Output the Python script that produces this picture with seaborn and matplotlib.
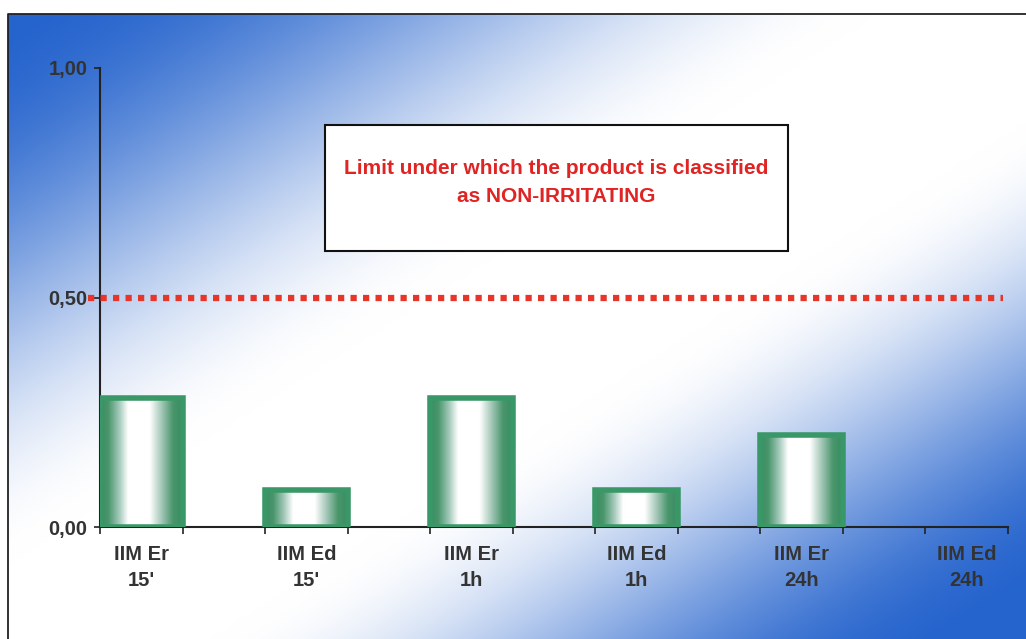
import numpy as np
import pandas as pd
import matplotlib
matplotlib.use('Agg')
import matplotlib.pyplot as plt
from matplotlib.colors import LinearSegmentedColormap
from matplotlib.patches import Rectangle
import seaborn as sns

# data
categories = ["IIM Er\n15'", "IIM Ed\n15'", "IIM Er\n1h", "IIM Ed\n1h", "IIM Er\n24h", "IIM Ed\n24h"]
values = [0.28, 0.08, 0.28, 0.08, 0.20, 0.00]
limit = 0.50
ytick_vals = [0.0, 0.5, 1.0]
ytick_labels = ["0,00", "0,50", "1,00"]

df = pd.DataFrame({"test": categories, "score": values})

sns.set_style("white")
plt.rcParams['font.family'] = ['Liberation Sans', 'DejaVu Sans']

W, H = 1026, 639
fig = plt.figure(figsize=(W / 100, H / 100), dpi=100, facecolor='white')

# blue / white diagonal background (white band from lower left to upper right)
bg = fig.add_axes([0, 0, 1, 1], zorder=-2)
yy, xx = np.mgrid[0:H, 0:W]
s = yy + 0.633 * xx - 650
w = np.where(s < 0, 1 - (np.abs(s) - 80) / 540, 1 - (s - 120) / 470)
w = np.clip(w, 0, 1)
w = w * w * (3 - 2 * w)
blue = np.array([38, 100, 205]) / 255
img = blue[None, None, :] * (1 - w[..., None]) + w[..., None]
img[:14, :, :] = 1
img[:, :8, :] = 1
bg.imshow(img, extent=[0, W, H, 0], aspect='auto')
bg.set_xlim(0, W)
bg.set_ylim(H, 0)
bg.axis('off')
bg.plot([8, 8, W], [H, 14, 14], color='#222222', lw=1.3)

ax = fig.add_axes([100 / W, 112 / H, 908 / W, 459 / H])
ax.set_facecolor('none')

edge = '#3a9868'
sns.barplot(data=df, x="test", y="score", width=0.5, color='white',
            edgecolor=edge, linewidth=4, ax=ax, zorder=3)

# green-white-green fill inside each bar
cmap = LinearSegmentedColormap.from_list(
    "barfill", [(0.0, '#3a8c60'), (0.1, '#4a966c'), (0.22, '#9cc4b4'), (0.34, '#ffffff'),
                (0.6, '#ffffff'), (0.74, '#a6c8ba'), (0.88, '#4a966c'), (1.0, '#3a8c60')])
grad = np.linspace(0, 1, 256)[None, :]
for p in list(ax.patches):
    h = p.get_height()
    if h <= 0:
        p.set_visible(False)
        continue
    p.set_facecolor('none')
    x0 = p.get_x()
    im = ax.imshow(grad, cmap=cmap, extent=[x0, x0 + p.get_width(), 0, h],
                   aspect='auto', zorder=2.5, interpolation='bicubic')
    im.set_clip_path(p)

ax.set_xlim(-0.25, 5.25)
ax.set_ylim(0, 1.0)

# limit line
ax.axhline(limit, xmin=-0.013, xmax=0.995, color='#e8352a', lw=4.5,
           linestyle=(0, (1, 1)), clip_on=False, zorder=4)

sns.despine(ax=ax)
for sp in ['left', 'bottom']:
    ax.spines[sp].set_color('#222222')
    ax.spines[sp].set_linewidth(1.5)

ax.set_yticks(ytick_vals)
ax.set_yticklabels(ytick_labels, fontsize=14.5, fontweight='bold', color='#333333')
ax.tick_params(axis='y', direction='out', length=4, width=1.2, color='#222222', pad=5, left=True)

ax.set_xticks(range(len(categories)))
ax.set_xticklabels(categories, fontsize=14.5, fontweight='bold', color='#333333', linespacing=1.45)
ax.set_xticks(np.arange(-0.25, 5.3, 0.5), minor=True)
ax.tick_params(axis='x', which='major', length=0, pad=13)
ax.tick_params(axis='x', which='minor', direction='out', length=5, width=1.2,
               color='#222222', bottom=True)
ax.set_xlabel("")
ax.set_ylabel("")

# annotation box
box = Rectangle((325 / W, 1 - 251 / H), 463 / W, 126 / H, transform=fig.transFigure,
                facecolor='white', edgecolor='#111111', lw=1.5, zorder=5)
fig.patches.append(box)
fig.text(556 / W, 1 - 182 / H, "Limit under which the product is classified\nas NON-IRRITATING",
         ha='center', va='center', fontsize=15, fontweight='bold', color='#e02424',
         linespacing=1.6, zorder=6)

plt.savefig("out.png", dpi=100)
plt.close()
